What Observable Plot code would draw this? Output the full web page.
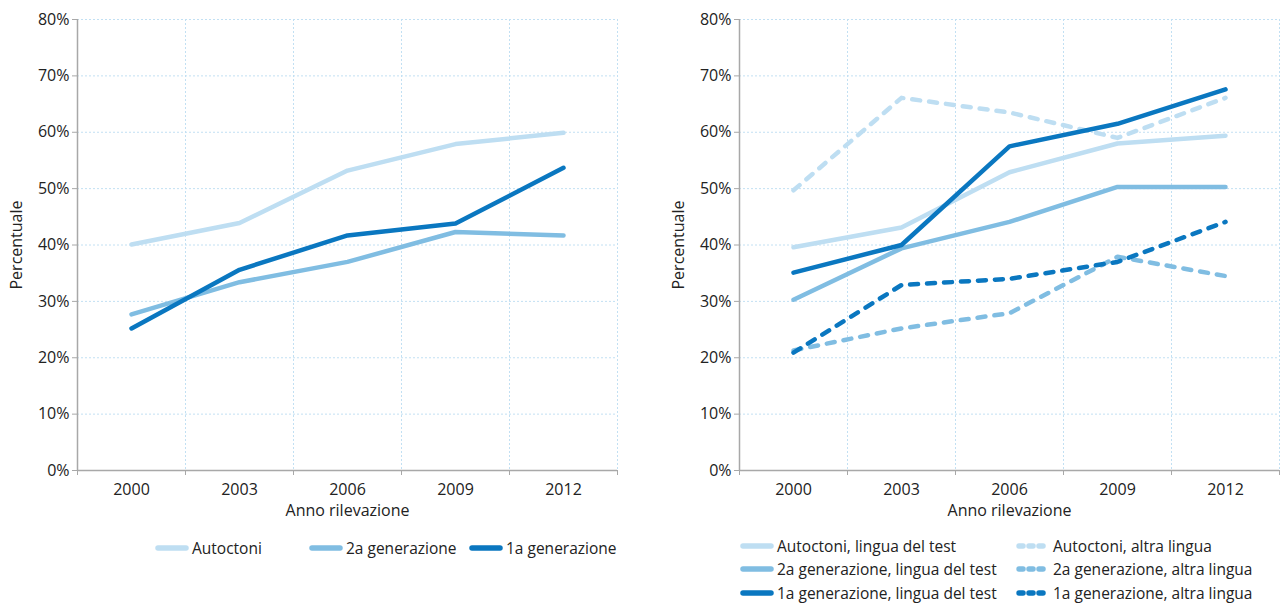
<!DOCTYPE html>
<html>
<head>
<meta charset="utf-8">
<script src="https://cdn.jsdelivr.net/npm/d3@7"></script>
<script src="https://cdn.jsdelivr.net/npm/@observablehq/plot@0.6"></script>
<style>
  body { margin: 0; background: #fff; font-family: "Open Sans", sans-serif; overflow: hidden; }
  #wrap { display: flex; width: 1283px; }
  .panel { flex: none; }
  .panel > svg.chart { display: block; }
  .panel > svg.chart text { font-size: 16px !important; fill: #222; }
  .legend { font-size: 15.5px; color: #222; font-family: "Open Sans", sans-serif; }
  .legend .item { display: flex; align-items: center; white-space: nowrap; height: 23.5px; line-height: 18px; }
  .legend .sw { margin-right: 3px; display: block; flex: none; }
</style>
</head>
<body>
<div id="wrap">
  <div class="panel" id="p1" style="width:641px"></div>
  <div class="panel" id="p2" style="width:642px"></div>
</div>
<pre id="err" style="color:red"></pre>
<script>
window.onerror = (m, s, l, c, e) => { document.getElementById("err").textContent += m + " " + l + "\n"; };

const years = [2000, 2003, 2006, 2009, 2012];
const yTicks = [0, 10, 20, 30, 40, 50, 60, 70, 80];
const boundaries = [1998.5, 2001.5, 2004.5, 2007.5, 2010.5, 2013.5];

// Left chart
const autoctoni = [40.1, 43.9, 53.2, 57.9, 59.9];
const gen2 = [27.7, 33.4, 37.0, 42.3, 41.7];
const gen1 = [25.2, 35.6, 41.7, 43.8, 53.7];

// Right chart
const autTest = [39.6, 43.1, 52.9, 58.0, 59.4];
const autAltra = [49.7, 66.1, 63.5, 59.0, 66.1];
const gen2Test = [30.3, 39.4, 44.1, 50.3, 50.3];
const gen2Altra = [21.3, 25.2, 27.9, 37.9, 34.5];
const gen1Test = [35.1, 40.0, 57.5, 61.5, 67.6];
const gen1Altra = [20.9, 32.9, 34.0, 37.0, 44.1];

const cLight = "#bedef2", cMid = "#80bde2", cDark = "#0a77c0";
const gridColor = "#c2e0f3";
const axisColor = "#a8a8a8";

const leftSeries = [
  {name: "Autoctoni", values: autoctoni, color: cLight, dash: null},
  {name: "2a generazione", values: gen2, color: cMid, dash: null},
  {name: "1a generazione", values: gen1, color: cDark, dash: null}
];
const rightSeries = [
  {name: "Autoctoni, lingua del test", values: autTest, color: cLight, dash: null},
  {name: "Autoctoni, altra lingua", values: autAltra, color: cLight, dash: "8,9"},
  {name: "2a generazione, lingua del test", values: gen2Test, color: cMid, dash: null},
  {name: "2a generazione, altra lingua", values: gen2Altra, color: cMid, dash: "8,9"},
  {name: "1a generazione, lingua del test", values: gen1Test, color: cDark, dash: null},
  {name: "1a generazione, altra lingua", values: gen1Altra, color: cDark, dash: "8,9"}
];

function toRows(s) {
  return s.values.map((v, i) => ({series: s.name, year: years[i], value: v}));
}

function makeChart(series, width, marginLeft, marginRight) {
  const marks = [
    Plot.gridY(yTicks.filter(d => d > 0), {stroke: gridColor, strokeOpacity: 1, strokeDasharray: "2,2", strokeWidth: 1}),
    Plot.gridX(boundaries.slice(1), {stroke: gridColor, strokeOpacity: 1, strokeDasharray: "2,2", strokeWidth: 1}),
    Plot.axisX(boundaries, {tickSize: 5, text: null, stroke: axisColor, label: null}),
    Plot.axisX(years, {tickSize: 0, tickPadding: 13, tickFormat: d => String(d),
      label: "Anno rilevazione", labelAnchor: "center", labelArrow: "none", labelOffset: 45}),
    Plot.axisY(yTicks, {tickSize: 5, stroke: axisColor, tickPadding: 3, tickFormat: d => d + "%",
      label: "Percentuale", labelAnchor: "center", labelArrow: "none", labelOffset: 67}),
    Plot.ruleY([0], {stroke: axisColor, strokeWidth: 1.5}),
    Plot.ruleX([1998.5], {stroke: axisColor, strokeWidth: 1.5}),
  ];
  for (const s of series) {
    marks.push(Plot.line(toRows(s), {x: "year", y: "value", stroke: s.color, strokeWidth: 4.5,
      strokeDasharray: s.dash, strokeLinecap: "round", strokeLinejoin: "round"}));
  }
  const svg = Plot.plot({
    width, height: 525,
    marginTop: 19, marginBottom: 55, marginLeft, marginRight,
    style: {fontFamily: "Open Sans, sans-serif", fontSize: "16px", overflow: "visible"},
    x: {domain: [1998.5, 2013.5], axis: null},
    y: {domain: [0, 80], axis: null},
    marks
  });
  svg.classList.add("chart");
  return svg;
}

function swatch(color, dash) {
  const ns = "http://www.w3.org/2000/svg";
  const svg = document.createElementNS(ns, "svg");
  svg.setAttribute("width", "34"); svg.setAttribute("height", "10");
  svg.setAttribute("class", "sw");
  const l = document.createElementNS(ns, "line");
  l.setAttribute("x1", "3"); l.setAttribute("x2", "31"); l.setAttribute("y1", "5"); l.setAttribute("y2", "5");
  l.setAttribute("stroke", color); l.setAttribute("stroke-width", "5.5");
  l.setAttribute("stroke-linecap", "round");
  if (dash) l.setAttribute("stroke-dasharray", "4,6");
  svg.appendChild(l);
  return svg;
}

function legendItem(s) {
  const d = document.createElement("div");
  d.className = "item";
  d.appendChild(swatch(s.color, s.dash));
  const t = document.createElement("span");
  t.textContent = s.name;
  d.appendChild(t);
  return d;
}

const p1 = document.getElementById("p1");
p1.appendChild(makeChart(leftSeries, 641, 77, 24));
const lg1 = document.createElement("div");
lg1.className = "legend";
lg1.style.display = "grid";
lg1.style.gridTemplateColumns = "154px 160px auto";
lg1.style.marginLeft = "155px";
lg1.style.marginTop = "11px";
leftSeries.forEach(s => lg1.appendChild(legendItem(s)));
p1.appendChild(lg1);

const p2 = document.getElementById("p2");
p2.appendChild(makeChart(rightSeries, 642, 98, 4));
const lg2 = document.createElement("div");
lg2.className = "legend";
lg2.style.display = "grid";
lg2.style.gridTemplateColumns = "276px 250px";
lg2.style.marginLeft = "99px";
lg2.style.marginTop = "9px";
rightSeries.forEach(s => lg2.appendChild(legendItem(s)));
p2.appendChild(lg2);
</script>
</body>
</html>
